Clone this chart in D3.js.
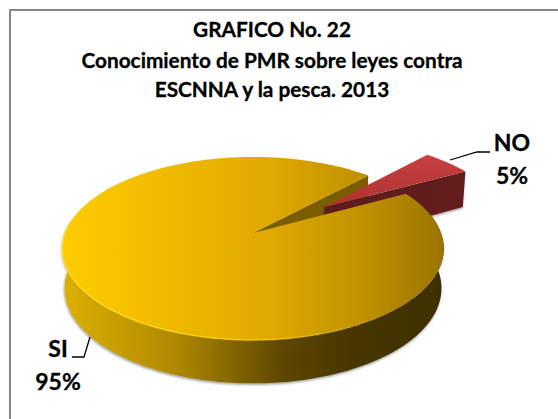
<!DOCTYPE html>
<html><head><meta charset="utf-8">
<script src="https://cdn.jsdelivr.net/npm/d3@7"></script>
<style>html,body{margin:0;padding:0;background:#fff}svg{display:block}text{font-family:Lato,"Noto Sans",sans-serif;font-weight:700;fill:#000;stroke:#000;stroke-width:.3}</style>
</head><body><div id="c"></div>
<script>
const categories=["NO","SI"];
const values=[5,95];
const percentLabels=["5%","95%"];
const titleLines=["GRAFICO No. 22","Conocimiento de PMR sobre leyes contra","ESCNNA y la pesca. 2013"];

const W=558,H=419;
const svg=d3.select("#c").append("svg").attr("width",W).attr("height",H);
const defs=svg.append("defs");
function grad(id,stops,x1,x2,y1=0,y2=0){
  const g=defs.append("linearGradient").attr("id",id).attr("gradientUnits","userSpaceOnUse")
    .attr("x1",x1).attr("x2",x2).attr("y1",y1).attr("y2",y2);
  stops.forEach(s=>g.append("stop").attr("offset",s[0]).attr("stop-color",s[1]).attr("stop-opacity",s[2]===undefined?1:s[2]));
}
grad("top",[[0,"#FFCC00"],[0.55,"#E0A800"],[0.8,"#BE9000"],[1,"#9A7400"]],61,443,0,0);
grad("side",[[0,"#DDB000"],[0.3,"#B08800"],[0.58,"#5E4700"],[0.76,"#483600"],[1,"#3E2F00"]],62,441);
grad("red",[[0,"#C94040"],[1,"#A22E2C"]],0,0,154,225);
grad("redSide",[[0,"#5A1A1A"],[1,"#641E1E"]],320,467);
grad("rim",[[0,"#FFE030",1],[0.55,"#FFD000",0.8],[0.8,"#FFD000",0]],61,443);
const blur=defs.append("filter").attr("id","shadow").attr("x","-5%").attr("y","-5%").attr("width","110%").attr("height","115%");
blur.append("feDropShadow").attr("dx",-0.5).attr("dy",1.5).attr("stdDeviation",1.3).attr("flood-color","#000").attr("flood-opacity",0.4);

// frame
svg.append("path").attr("d",d3.line()([[10,H+5],[10,10],[W+5,10]])).attr("fill","none").attr("stroke","#868686").attr("stroke-width",2);

// title
svg.selectAll("text.title").data(titleLines).join("text").attr("class","title")
  .attr("x",272).attr("y",(d,i)=>[37,68,97][i]).attr("text-anchor","middle").attr("font-size",20.8).text(d=>d);

// perspective projection of the unit disc
const cx=253,cy=233,A=188,B=88.9,K=0.169,EXPLODE=0.505;
const top3=(u,v)=>{const w=1+K*v;return [cx+A*u/w,cy-B*v/w];};
const low3=(u,v)=>{const p=top3(u,v);return [cx+(p[0]-cx)*0.988,p[1]+39-4.4*v];};
const pie=d3.pie().sort(null).value(d=>d).startAngle(43.5*Math.PI/180).endAngle(403.5*Math.PI/180);
const arcs=pie(values);
const line=d3.line();
function rimPts(a,proj,ox=0,oy=0){
  const n=Math.max(2,Math.ceil((a.endAngle-a.startAngle)/0.02));
  return d3.range(n+1).map(i=>{const t=a.startAngle+(a.endAngle-a.startAngle)*i/n;
    return proj(ox+Math.sin(t),oy+Math.cos(t));});
}
const no=arcs[0],si=arcs[1];
const mid=(no.startAngle+no.endAngle)/2,ox=EXPLODE*Math.sin(mid),oy=EXPLODE*Math.cos(mid);

const pie3d=svg.append("g");
const wallAt=(t,ox0,oy0)=>[top3(ox0,oy0),top3(ox0+Math.sin(t),oy0+Math.cos(t)),low3(ox0+Math.sin(t),oy0+Math.cos(t)),low3(ox0,oy0)];
// SI inner wall visible in the gap
pie3d.append("path").attr("d",line(wallAt(si.endAngle,0,0))+"Z").attr("fill","#7A5D00");

// NO slice
pie3d.append("path").attr("d",line(wallAt(no.endAngle,ox,oy))+"Z").attr("fill","url(#redSide)").attr("filter","url(#shadow)");
pie3d.append("path").attr("d",line([top3(ox,oy),...rimPts(no,top3,ox,oy)])+"Z").attr("fill","url(#red)");

// SI outer wall: only the front-facing part of the rim
const wallArc={startAngle:si.startAngle,endAngle:Math.PI*1.55};
pie3d.append("path").attr("d",line([...rimPts(wallArc,top3),...rimPts(wallArc,low3).reverse()])+"Z").attr("fill","url(#side)").attr("filter","url(#shadow)");

// SI top
pie3d.append("path").attr("d",line([top3(0,0),...rimPts(si,top3)])+"Z").attr("fill","url(#top)");
// bevel highlight on the front-left rim
pie3d.append("path").attr("d",line(rimPts({startAngle:Math.PI*0.8,endAngle:Math.PI*1.52},top3))).attr("fill","none").attr("stroke","url(#rim)").attr("stroke-width",1.4);

// leaders
const leaders=[[[450,160],[477,152],[490,152]],[[90,337],[84,357],[72,357]]];
svg.selectAll("path.leader").data(leaders).join("path").attr("class","leader").attr("d",d=>line(d))
  .attr("fill","none").attr("stroke","#000").attr("stroke-width",1.3);

// labels
const labelPos=[{x:512,y1:151,y2:184},{x:58,y1:357,y2:390}];
const labG=svg.selectAll("g.lab").data(categories).join("g").attr("class","lab");
labG.append("text").attr("x",(d,i)=>labelPos[i].x).attr("y",(d,i)=>labelPos[i].y1).attr("text-anchor","middle").attr("font-size",23).text(d=>d);
labG.append("text").attr("x",(d,i)=>labelPos[i].x).attr("y",(d,i)=>labelPos[i].y2).attr("text-anchor","middle").attr("font-size",23).text((d,i)=>percentLabels[i]);
</script></body></html>
